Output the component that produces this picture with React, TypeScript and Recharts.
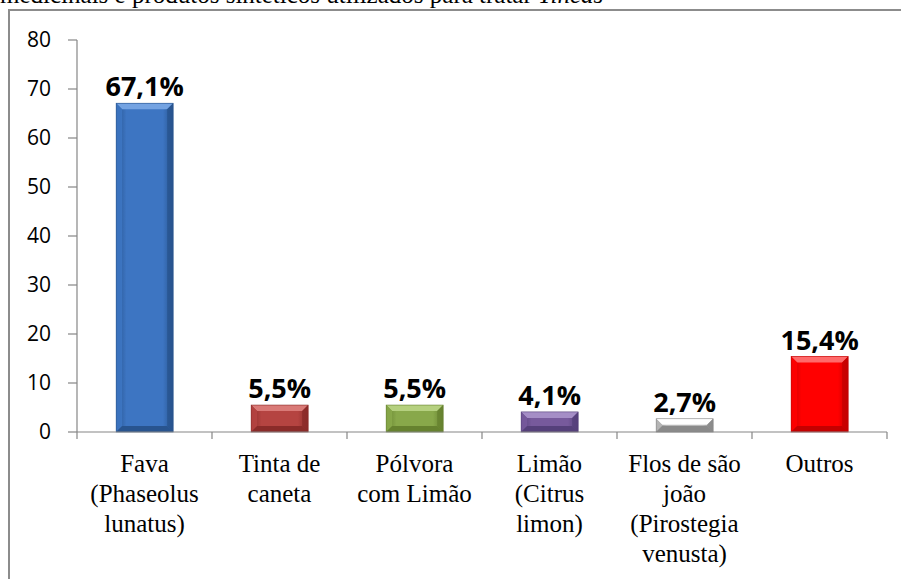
import { BarChart, Bar, XAxis, YAxis, LabelList } from "recharts";

const categories = [
  "Fava\n(Phaseolus\nlunatus)",
  "Tinta de\ncaneta",
  "Pólvora\ncom Limão",
  "Limão\n(Citrus\nlimon)",
  "Flos de são\njoão\n(Pirostegia\nvenusta)",
  "Outros",
];
const percentages = [67.1, 5.5, 5.5, 4.1, 2.7, 15.4];
const yTicks = [0, 10, 20, 30, 40, 50, 60, 70, 80];

// main / light / dark shade for each bar
const barColors = [
  { main: "#3d75c2", light: "#74a3e2", dark: "#28548f" },
  { main: "#b54441", light: "#d97a77", dark: "#8a2b29" },
  { main: "#88a84a", light: "#b5d07f", dark: "#66822f" },
  { main: "#775a9c", light: "#a58ec6", dark: "#55407a" },
  { main: "#b8b8b8", light: "#ffffff", dark: "#8a8a8a" },
  { main: "#ff0000", light: "#ff6a6a", dark: "#c40000" },
];

const data = categories.map((name, i) => ({ name, value: percentages[i] }));

const AXIS = "#868686";

function BevelBar(props: any) {
  const { x, y, width, height, index } = props;
  if (!height || height <= 0) return null;
  const c = barColors[index % barColors.length];
  const b = Math.min(6, height / 2, width / 4);
  const id = `grad-${index}`;
  return (
    <g>
      <defs>
        <linearGradient id={id} x1="0" y1="0" x2="1" y2="0">
          <stop offset="0%" stopColor={c.dark} />
          <stop offset="18%" stopColor={c.main} />
          <stop offset="82%" stopColor={c.main} />
          <stop offset="100%" stopColor={c.dark} />
        </linearGradient>
      </defs>
      <rect x={x} y={y} width={width} height={height} fill={`url(#${id})`} />
      <polygon
        points={`${x},${y} ${x + width},${y} ${x + width - b},${y + b} ${x + b},${y + b}`}
        fill={c.light}
      />
      <polygon
        points={`${x},${y} ${x + b},${y + b} ${x + b},${y + height - b} ${x},${y + height}`}
        fill={c.main}
        opacity={0.9}
      />
      <polygon
        points={`${x + width},${y} ${x + width - b},${y + b} ${x + width - b},${y + height - b} ${x + width},${y + height}`}
        fill={c.dark}
        opacity={0.8}
      />
      <polygon
        points={`${x},${y + height} ${x + b},${y + height - b} ${x + width - b},${y + height - b} ${x + width},${y + height}`}
        fill={c.dark}
      />
      <rect x={x} y={y} width={width} height={height} fill="none" stroke={c.dark} strokeWidth={0.6} />
    </g>
  );
}

function CategoryTick(props: any) {
  const { x, y, payload, index } = props;
  const lines = String(payload.value).split("\n");
  const half = payload.offset ?? 67.5;
  const last = index === categories.length - 1;
  return (
    <g>
      <line x1={x - half} y1={y} x2={x - half} y2={y + 7} stroke={AXIS} strokeWidth={1.2} />
      {last && <line x1={x + half} y1={y} x2={x + half} y2={y + 7} stroke={AXIS} strokeWidth={1.2} />}
      <text
        x={x}
        y={y + 40}
        textAnchor="middle"
        fontFamily="'Liberation Serif', 'Times New Roman', serif"
        fontSize={25}
        fill="#000"
      >
        {lines.map((l, i) => (
          <tspan key={i} x={x} dy={i === 0 ? 0 : 30}>
            {l}
          </tspan>
        ))}
      </text>
    </g>
  );
}

export default function App() {
  return (
    <div style={{ position: "absolute", left: 0, top: 0, width: 901, height: 579, overflow: "hidden", background: "#fff" }}>
      <div
        style={{
          position: "absolute",
          left: 0,
          top: -20,
          fontFamily: "'Liberation Serif', 'Times New Roman', serif",
          fontSize: 25,
          lineHeight: "30px",
          whiteSpace: "nowrap",
          color: "#000",
        }}
      >
        medicinais e produtos sintéticos utilizados para tratar <i>Tineas</i>
      </div>
      <div
        style={{
          position: "absolute",
          left: 8,
          top: 9,
          width: 1000,
          height: 1000,
          border: "2px solid #8c8c8c",
          boxSizing: "border-box",
        }}
      />
      <div style={{ position: "absolute", left: 0, top: 0 }}>
        <BarChart
          width={901}
          height={579}
          data={data}
          margin={{ top: 40, right: 14, left: 0, bottom: 1 }}
          barCategoryGap="29%"
        >
          <XAxis
            dataKey="name"
            interval={0}
            height={146}
            axisLine={{ stroke: AXIS, strokeWidth: 1.2 }}
            tickLine={false}
            tickSize={0}
            tickMargin={0}
            tick={<CategoryTick />}
          />
          <YAxis
            domain={[0, 80]}
            ticks={yTicks}
            width={77}
            interval={0}
            axisLine={{ stroke: AXIS, strokeWidth: 1.2 }}
            tickLine={{ stroke: AXIS, strokeWidth: 1.2 }}
            tickSize={9}
            tickMargin={17}
            tick={{ fontFamily: "'Open Sans', sans-serif", fontSize: 21, fill: "#000" }}
          />
          <Bar dataKey="value" isAnimationActive={false} shape={<BevelBar />}>
            <LabelList
              dataKey="value"
              position="top"
              offset={7}
              formatter={(v: any) => `${Number(v).toFixed(1).replace(".", ",")}%`}
              style={{ fontFamily: "'Open Sans', sans-serif", fontSize: 27, fontWeight: 700, fill: "#000" }}
            />
          </Bar>
        </BarChart>
      </div>
    </div>
  );
}
